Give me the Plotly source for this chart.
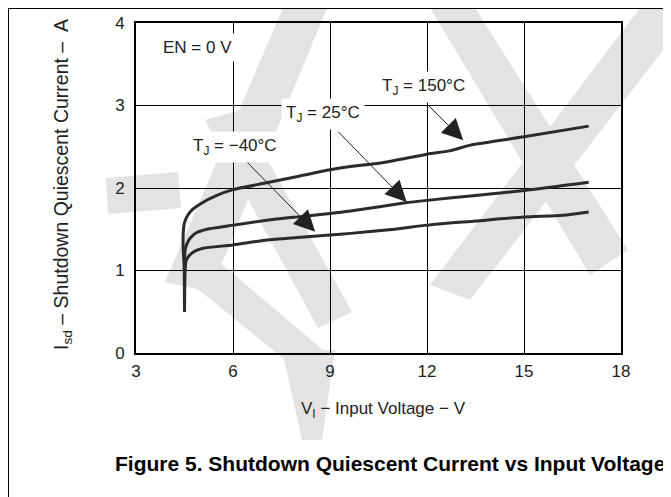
import plotly.graph_objects as go

# Data
v_150 = [4.50, 4.49, 4.46, 4.46, 4.50, 4.60, 4.75, 5.00, 5.50, 6.00, 7.00, 8.00, 9.00, 9.63, 10.66, 12.00, 12.70, 13.34, 15.00, 17.00]
i_150 = [0.50, 1.05, 1.25, 1.45, 1.58, 1.67, 1.74, 1.81, 1.91, 1.98, 2.06, 2.14, 2.22, 2.26, 2.31, 2.41, 2.45, 2.52, 2.62, 2.75]

v_25 = [4.50, 4.50, 4.52, 4.62, 4.72, 4.88, 5.19, 6.00, 7.05, 8.00, 9.00, 9.63, 11.33, 12.00, 13.50, 15.00, 17.00]
i_25 = [0.50, 1.05, 1.25, 1.36, 1.41, 1.46, 1.50, 1.55, 1.61, 1.65, 1.69, 1.72, 1.82, 1.85, 1.91, 1.97, 2.07]

v_m40 = [4.50, 4.52, 4.55, 4.67, 4.85, 5.08, 6.00, 7.05, 8.00, 9.00, 9.63, 11.00, 12.00, 13.50, 15.00, 16.20, 17.00]
i_m40 = [0.50, 1.00, 1.12, 1.19, 1.24, 1.27, 1.31, 1.37, 1.40, 1.43, 1.45, 1.50, 1.55, 1.60, 1.65, 1.67, 1.71]

x_ticks = [3, 6, 9, 12, 15, 18]
y_ticks = [0, 1, 2, 3, 4]

series = [
    ("T_J = 150°C", v_150, i_150),
    ("T_J = 25°C", v_25, i_25),
    ("T_J = −40°C", v_m40, i_m40),
]

FONT = "Liberation Sans, Arial, sans-serif"
TXT = "#222222"

# page offset of the figure inside the browser window (body margin)
O = 8
W, H = 671, 497
# plot-area geometry in window pixels
L, R, T, B = 136, 621, 23, 353


def px(xp):
    return (xp - L) / (R - L)


def py(yp):
    return (B - yp) / (B - T)


fig = go.Figure()

# light-grey watermark (decoration, behind everything)
wm_polys = [
    [(283, 8), (327, 8), (210, 292), (165, 282)],
    [(106, 178), (178, 172), (181, 208), (108, 214)],
    [(205, 120), (240, 110), (352, 312), (318, 328)],
    [(172, 268), (205, 250), (335, 360), (300, 372)],
    [(282, 350), (335, 350), (322, 440), (302, 440)],
    [(430, 8), (475, 8), (628, 250), (590, 275)],
    [(640, 8), (671, 8), (671, 40), (470, 300), (430, 285)],
]
for poly in wm_polys:
    path = "M " + " L ".join(f"{px(a):.4f},{py(b):.4f}" for a, b in poly) + " Z"
    fig.add_shape(type="path", path=path, xref="paper", yref="paper", layer="below",
                  fillcolor="#e3e3e3", line=dict(width=0))

for name, xs, ys in series:
    fig.add_trace(go.Scatter(x=xs, y=ys, mode="lines", name=name,
                             line=dict(color="#2b2b2b", width=3, shape="spline", smoothing=0.6),
                             showlegend=False, hoverinfo="skip"))

# Arrows (tail -> tip, in data coords)
arrows = [
    (11.97, 3.03, 13.12, 2.58),
    (9.21, 2.70, 11.37, 1.83),
    (6.22, 2.40, 8.54, 1.47),
]
for ax_, ay_, x_, y_ in arrows:
    fig.add_annotation(x=x_, y=y_, ax=ax_, ay=ay_, axref="x", ayref="y", xref="x", yref="y",
                       text="", showarrow=True, arrowhead=2, arrowsize=4.2, arrowwidth=1,
                       arrowcolor="#222222", standoff=0)

labels = [
    ("EN = 0 V", 4.89, 3.70),
    ("T<sub>J</sub> = 150°C", 11.88, 3.22),
    ("T<sub>J</sub> = 25°C", 8.78, 2.90),
    ("T<sub>J</sub> = −40°C", 6.06, 2.50),
]
for t, x_, y_ in labels:
    fig.add_annotation(x=x_, y=y_, xref="x", yref="y", text=t, showarrow=False,
                       font=dict(family=FONT, size=17, color=TXT),
                       bgcolor="white", borderpad=4)

# axis titles and figure caption
fig.add_annotation(x=px(383), y=py(410), xref="paper", yref="paper", showarrow=False,
                   xanchor="center", yanchor="middle",
                   text="V<sub>I</sub> − Input Voltage − V",
                   font=dict(family=FONT, size=17, color=TXT))
fig.add_annotation(x=px(62), y=py(185), xref="paper", yref="paper", showarrow=False,
                   xanchor="center", yanchor="middle",
                   text="I<sub>sd</sub> – Shutdown Quiescent Current –  A", textangle=-90,
                   font=dict(family=FONT, size=19.5, color=TXT))
fig.add_annotation(x=px(390), y=py(463), xref="paper", yref="paper", showarrow=False,
                   xanchor="center", yanchor="middle",
                   text="<b>Figure 5. Shutdown Quiescent Current vs Input Voltage</b>",
                   font=dict(family=FONT, size=21, color="black"))

# outer frame lines
fig.add_shape(type="line", xref="paper", yref="paper", x0=px(8), x1=px(W + 20), y0=py(8), y1=py(8),
              line=dict(color="black", width=2))
fig.add_shape(type="line", xref="paper", yref="paper", x0=px(8), x1=px(8), y0=py(8), y1=py(H + 20),
              line=dict(color="black", width=2))

fig.update_xaxes(range=[3, 18], tickvals=x_ticks, ticktext=[str(v) for v in x_ticks],
                 showgrid=True, gridcolor="black", gridwidth=1, zeroline=False,
                 showline=True, linecolor="black", linewidth=2, mirror=True, ticks="",
                 automargin=False, ticklabelstandoff=2,
                 tickfont=dict(family=FONT, size=17, color=TXT))
fig.update_yaxes(range=[0, 4], tickvals=y_ticks, ticktext=[str(v) for v in y_ticks],
                 showgrid=True, gridcolor="black", gridwidth=1, zeroline=False,
                 showline=True, linecolor="black", linewidth=2, mirror=True, ticks="",
                 automargin=False, ticklabelstandoff=6,
                 tickfont=dict(family=FONT, size=17, color=TXT))

fig.update_layout(
    width=W, height=H,
    margin=dict(l=L - O, r=W - (R - O), t=T - O, b=H - (B - O)),
    paper_bgcolor="white", plot_bgcolor="white",
)
fig.write_html("out.html")
